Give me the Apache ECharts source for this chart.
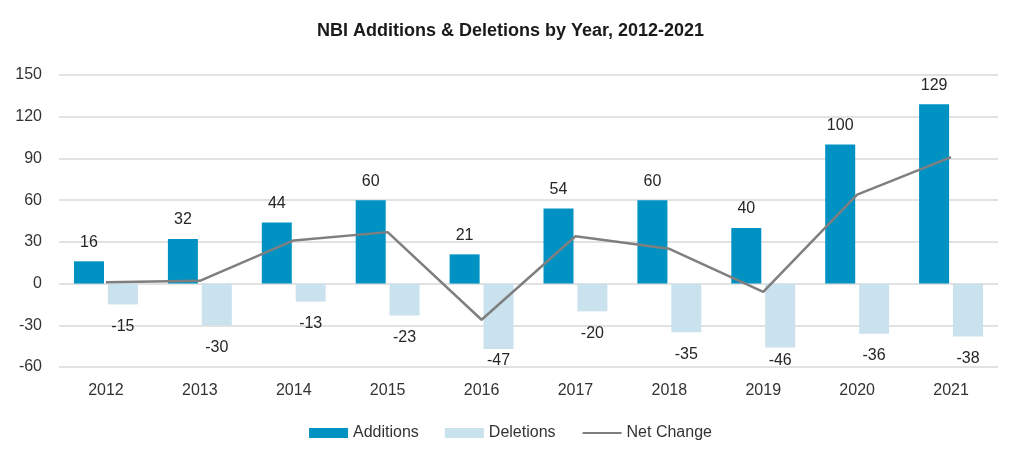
<!DOCTYPE html>
<html>
<head>
<meta charset="utf-8">
<script src="https://cdn.jsdelivr.net/npm/echarts@6/dist/echarts.min.js"></script>
<style>html,body{margin:0;padding:0;background:#fff}#c{width:1021px;height:459px}</style>
</head>
<body>
<div id="c"></div>
<script>
const years = ['2012','2013','2014','2015','2016','2017','2018','2019','2020','2021'];
const additions = [16, 32, 44, 60, 21, 54, 60, 40, 100, 129];
const deletions = [-15, -30, -13, -23, -47, -20, -35, -46, -36, -38];
const netChange = [1, 2, 31, 37, -26, 34, 25, -6, 64, 91];
const yTicks = { min: -60, max: 150, interval: 30 };

const FONT = '"Liberation Sans", Arial, sans-serif';
const chart = echarts.init(document.getElementById('c'));

function buildOption(delData) {
  return {
    animation: false,
    backgroundColor: '#ffffff',
    title: {
      text: 'NBI Additions & Deletions by Year, 2012-2021',
      left: 'center', top: 17,
      textStyle: { fontFamily: FONT, fontSize: 18, fontWeight: 'bold', color: '#1a1a1a' }
    },
    grid: { left: 59, right: 23, top: 75, bottom: 92 },
    legend: {
      left: 'center', top: 420,
      itemWidth: 39, itemHeight: 10, itemGap: 26,
      textStyle: { fontFamily: FONT, fontSize: 16, color: '#333' },
      data: [
        { name: 'Additions', icon: 'rect' },
        { name: 'Deletions', icon: 'rect' },
        { name: 'Net Change', itemStyle: { color: 'rgba(0,0,0,0)', borderWidth: 0, opacity: 0 } }
      ]
    },
    xAxis: {
      type: 'category', data: years,
      axisLine: { show: false, onZero: false }, axisTick: { show: false },
      axisLabel: { margin: 16, fontFamily: FONT, fontSize: 16, color: '#333' }
    },
    yAxis: {
      type: 'value', min: yTicks.min, max: yTicks.max, interval: yTicks.interval,
      axisLine: { show: false }, axisTick: { show: false },
      splitLine: { lineStyle: { color: '#D9D9D9', width: 1.5 } },
      axisLabel: { margin: 17, fontFamily: FONT, fontSize: 16, color: '#333' }
    },
    series: [
      {
        name: 'Additions', type: 'bar', data: additions, barWidth: 30, barGap: '13%',
        itemStyle: { color: '#0092C3' },
        label: { show: true, position: 'top', distance: 11, fontFamily: FONT, fontSize: 16, color: '#262626' }
      },
      {
        name: 'Deletions', type: 'bar', data: delData, barWidth: 30,
        itemStyle: { color: '#CAE2EE' },
        label: { show: true, position: 'bottom', distance: 14, fontFamily: FONT, fontSize: 16, color: '#262626' }
      },
      {
        name: 'Net Change', type: 'line', data: netChange, symbol: 'none', z: 5,
        lineStyle: { color: '#7F7F7F', width: 2.5 },
        itemStyle: { color: '#7F7F7F' }
      }
    ]
  };
}

chart.setOption(buildOption(deletions));
// keep deletion labels inside the plot area (as in the reference)
const plotBottom = chart.convertToPixel({ yAxisIndex: 0 }, yTicks.min);
const delItems = deletions.map(function (v) {
  const end = chart.convertToPixel({ yAxisIndex: 0 }, v);
  const d = Math.min(14, plotBottom - 14 - end);
  return { value: v, label: { distance: Math.max(2, d) } };
});
chart.setOption(buildOption(delItems));
</script>
</body>
</html>
